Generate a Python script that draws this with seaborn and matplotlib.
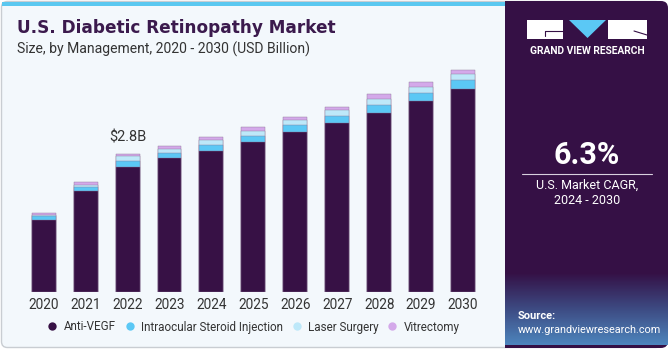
import numpy as np
import pandas as pd
import seaborn as sns
import matplotlib.pyplot as plt
from matplotlib.patches import FancyBboxPatch, Rectangle, Polygon
from matplotlib.lines import Line2D
from matplotlib.colors import LinearSegmentedColormap

### data (USD Billion)
years = ['2020', '2021', '2022', '2023', '2024', '2025', '2026', '2027', '2028', '2029', '2030']
anti_vegf = [1.47, 2.04, 2.54, 2.71, 2.87, 3.05, 3.24, 3.42, 3.64, 3.87, 4.12]
steroid = [0.07, 0.09, 0.12, 0.11, 0.12, 0.12, 0.15, 0.15, 0.16, 0.17, 0.18]
laser = [0.03, 0.05, 0.09, 0.08, 0.09, 0.10, 0.10, 0.12, 0.12, 0.12, 0.12]
vitrectomy = [0.04, 0.05, 0.05, 0.06, 0.07, 0.07, 0.06, 0.06, 0.09, 0.10, 0.09]
segments = ['Anti-VEGF', 'Intraocular Steroid Injection', 'Laser Surgery', 'Vitrectomy']
colors = ['#371145', '#5BC8F5', '#BDE8F9', '#D4A9EA']

df = pd.DataFrame({'year': years, 'Anti-VEGF': anti_vegf,
                   'Intraocular Steroid Injection': steroid,
                   'Laser Surgery': laser, 'Vitrectomy': vitrectomy})

sns.set_theme(style='white')
plt.rcParams['font.family'] = ['Roboto', 'DejaVu Sans']

fig = plt.figure(figsize=(6.7, 3.5), dpi=100, facecolor='white')

# background panels
bg = fig.add_axes([0, 0, 1, 1], zorder=-5)
bg.set_xlim(0, 670)
bg.set_ylim(350, 0)
bg.axis('off')
bg.add_patch(FancyBboxPatch((1.5, 1.5), 660, 346, boxstyle='round,pad=0,rounding_size=6',
                            facecolor='#F3F8FC', edgecolor='#C9CDD2', lw=1))
bg.add_patch(Rectangle((2, 1.5), 503, 4.5, facecolor='#5BC8F0', edgecolor='none'))
bg.add_patch(FancyBboxPatch((505, 1), 163, 347, boxstyle='round,pad=0,rounding_size=7',
                            facecolor='#351045', edgecolor='none'))
bg.add_patch(Rectangle((505, 1), 10, 347, facecolor='#351045', edgecolor='none'))
# gradient at the bottom of the side panel
grad = np.linspace(0, 1, 100).reshape(-1, 1)
cmap = LinearSegmentedColormap.from_list('g', ['#351045', '#3E4E86', '#4F8CC4'])
bg.imshow(grad, cmap=cmap, extent=(505, 668, 345, 272), aspect='auto', zorder=1, alpha=0.95)

# logo
bg.add_patch(Rectangle((527, 20), 36, 19, facecolor='white', edgecolor='none', zorder=3))
bg.add_patch(Polygon([(569, 20), (606, 20), (587.5, 38)], closed=True, facecolor='#5BC8F5',
                     edgecolor='none', zorder=3))
bg.add_patch(Rectangle((608, 20), 39, 19, facecolor='white', edgecolor='none', zorder=3))
bg.plot([545, 563], [31, 31], color='#351045', lw=0.8, zorder=4)
bg.plot([545, 545], [31, 36], color='#351045', lw=0.8, zorder=4)
bg.plot([634, 647], [31, 35], color='#351045', lw=0.8, zorder=4)
bg.text(587, 51, 'GRAND VIEW RESEARCH', color='white', fontsize=7.4, fontweight='bold',
        ha='center', va='center', zorder=4)

# CAGR block
bg.text(587, 155, '6.3%', color='white', fontsize=22, fontweight='bold', ha='center', va='center')
bg.plot([522, 652], [173.5, 173.5], color='#D8D0DE', lw=0.8)
bg.text(587, 185, 'U.S. Market CAGR,', color='white', fontsize=9, ha='center', va='center')
bg.text(587, 201, '2024 - 2030', color='white', fontsize=9, ha='center', va='center')
bg.text(518, 316, 'Source:', color='white', fontsize=8, fontweight='bold', ha='left', va='center', zorder=4)
bg.text(518, 330, 'www.grandviewresearch.com', color='white', fontsize=7.8, ha='left', va='center', zorder=4)

# titles
bg.text(17, 28, 'U.S. Diabetic Retinopathy Market', color='#3B1A4D', fontsize=12.2,
        fontweight='bold', family='DejaVu Sans', ha='left', va='center')
bg.text(17, 49, 'Size, by Management, 2020 - 2030 (USD Billion)', color='#333333', fontsize=10.1,
        ha='left', va='center')

# main chart: stacked bars drawn as overlaid cumulative bars
ax = fig.add_axes([22.75 / 670, 1 - 292 / 350, 461.25 / 670, 236.6 / 350])
ax.set_facecolor('none')
cum = df[segments].cumsum(axis=1)
for seg, col in reversed(list(zip(segments, colors))):
    sns.barplot(x=df['year'], y=cum[seg], color=col, width=0.57, saturation=1,
                edgecolor='#8A7595', linewidth=0.3, ax=ax)

ax.set_xlim(-0.5, 10.5)
ax.set_ylim(0, 4.8)
ax.set_xlabel('')
ax.set_ylabel('')
ax.set_yticks([])
for s in ax.spines.values():
    s.set_visible(False)
ax.tick_params(axis='x', length=0, pad=4, labelsize=9.8, labelcolor='#333333')

total_2022 = cum['Vitrectomy'][2]
ax.text(2, total_2022 + 0.2, '$2.8B', ha='center', va='bottom', fontsize=10.5, color='#333333')

# legend
handles = [Line2D([0], [0], marker='o', linestyle='', markersize=6, markerfacecolor=c,
                  markeredgecolor='none') for c in colors]
fig.legend(handles, segments, loc='center', bbox_to_anchor=(253 / 670, 1 - 327 / 350), ncol=4,
           frameon=False, fontsize=8.4, handlelength=1.0, handletextpad=0.45, columnspacing=0.7,
           labelcolor='#333333')

fig.savefig('out.png', dpi=100, facecolor='white')
